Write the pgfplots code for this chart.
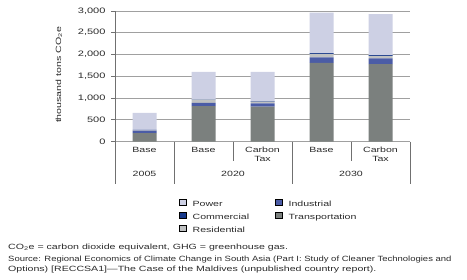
\documentclass[border=0pt]{standalone}
\usepackage{graphicx}
\usepackage{pgfplots}
\pgfplotsset{compat=1.18}
\usepackage{fontspec}
\setmainfont{Liberation Sans}[FakeStretch=1.4]
\definecolor{powerc}{HTML}{CDD0E4}
\definecolor{indc}{HTML}{4B5CA6}
\definecolor{comc}{HTML}{173A8C}
\definecolor{transc}{HTML}{7B807E}
\definecolor{resc}{HTML}{BFC1C2}
\definecolor{gridc}{HTML}{A0A0A0}
\definecolor{axisc}{HTML}{707070}
\definecolor{txt}{HTML}{2A2A2A}
\newcommand{\fs}{\fontsize{7.6}{9}\selectfont}
\newcommand{\ts}{\fontsize{7.9}{9}\selectfont}
\begin{document}
\begin{tikzpicture}[x=1bp,y=1bp]
\path[use as bounding box] (0,0) rectangle (467,279);
\begin{axis}[
  at={(115bp,137.5bp)}, anchor=south west,
  width=295bp, height=130.5bp, scale only axis,
  xmin=-0.5, xmax=4.5, ymin=0, ymax=3000,
  ybar stacked, bar width=24bp,
  xtick=\empty,
  ytick={0,500,...,3000},
  ymajorgrids, grid style={draw=gridc, line width=0.6bp},
  axis x line*=bottom, axis y line*=left,
  x axis line style={draw=gridc, line width=0.6bp},
  y axis line style={draw=axisc, line width=0.6bp},
  tick align=outside, major tick length=4bp,
  ytick style={draw=axisc, line width=0.6bp},
  /pgf/number format/.cd, 1000 sep={,}, assume math mode=true,
  /pgfplots/.cd,
  yticklabel style={font=\ts, text=txt, xshift=-2bp},
  clip=false,
  legend image code/.code={\fill[#1] (0bp,1bp) rectangle (7bp,7bp);},
  legend columns=2,
  legend cell align=left,
  legend style={at={(axis description cs:0.217,-0.44)}, anchor=north west,
    draw=none, fill=none, inner sep=0pt, font=\fs, text=txt,
    nodes={inner sep=0pt, anchor=base west},
    row sep=4.2bp,
    /tikz/column 1/.style={column sep=6bp},
    /tikz/column 2/.style={column sep=26bp},
    /tikz/column 3/.style={column sep=6bp}},
]
\addplot[forget plot, fill=transc, draw=none] coordinates {(0,190) (1,815) (2,800) (3,1810) (4,1780)};
\addplot[forget plot, fill=indc, draw=none] coordinates {(0,60) (1,75) (2,78) (3,125) (4,130)};
\addplot[forget plot, fill=resc, draw=none] coordinates {(0,12) (1,70) (2,40) (3,80) (4,60)};
\addplot[forget plot, fill=comc, draw=none] coordinates {(0,8) (1,10) (2,10) (3,15) (4,15)};
\addplot[forget plot, fill=powerc, draw=none] coordinates {(0,390) (1,630) (2,670) (3,930) (4,945)};

\addlegendimage{fill=powerc}\addlegendentry{Power}
\addlegendimage{fill=indc}\addlegendentry{Industrial}
\addlegendimage{fill=comc}\addlegendentry{Commercial}
\addlegendimage{fill=transc}\addlegendentry{Transportation}
\addlegendimage{fill=resc}\addlegendentry{Residential}

% category grid below axis
\draw[axisc, line width=0.6bp] (axis cs:-0.5,0) -- ([yshift=-42bp]axis cs:-0.5,0);
\draw[axisc, line width=0.6bp] (axis cs:0.5,0) -- ([yshift=-42bp]axis cs:0.5,0);
\draw[axisc, line width=0.6bp] (axis cs:1.5,0) -- ([yshift=-19bp]axis cs:1.5,0);
\draw[axisc, line width=0.6bp] (axis cs:2.5,0) -- ([yshift=-42bp]axis cs:2.5,0);
\draw[axisc, line width=0.6bp] (axis cs:3.5,0) -- ([yshift=-19bp]axis cs:3.5,0);
\draw[axisc, line width=0.6bp] (axis cs:4.5,0) -- ([yshift=-42bp]axis cs:4.5,0);
\foreach \i/\lab in {0/Base,1/Base,2/{Carbon\\Tax},3/Base,4/{Carbon\\Tax}}{
  \edef\temp{\noexpand\node[anchor=north, align=center, font=\noexpand\fs, text=txt, inner sep=0pt] at ([yshift=-5.5bp]axis cs:\i,0) {\lab};}
  \temp
}
\node[font=\fs, text=txt] at ([yshift=-32.5bp]axis cs:0,0) {2005};
\node[font=\fs, text=txt] at ([yshift=-32.5bp]axis cs:1.5,0) {2020};
\node[font=\fs, text=txt] at ([yshift=-32.5bp]axis cs:3.5,0) {2030};
\end{axis}
\node[rotate=90, font=\fs, text=txt, inner sep=0pt] at (59,204) {thousand tons CO\textsubscript{2}e};
\node[anchor=base west, font=\fs, text=txt, inner sep=0pt] at (8,30) {CO\textsubscript{2}e = carbon dioxide equivalent, GHG = greenhouse gas.};
\node[anchor=base west, font=\fs, text=txt, inner sep=0pt] at (8,17.5) {\scalebox{0.895}[1]{Source: Regional Economics of Climate Change in South Asia (Part I: Study of Cleaner Technologies and}};
\node[anchor=base west, font=\fs, text=txt, inner sep=0pt] at (8,7.5) {Options) [RECCSA1]---The Case of the Maldives (unpublished country report).};
\end{tikzpicture}
\end{document}
